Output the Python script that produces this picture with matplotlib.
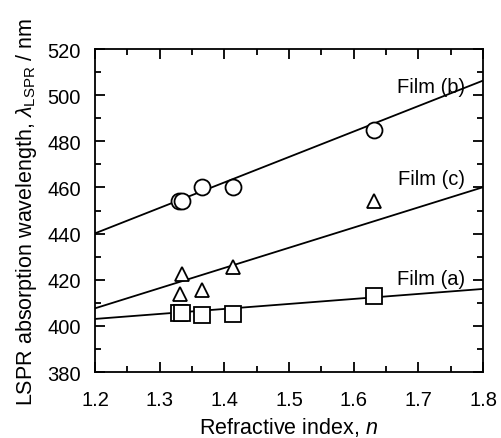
import matplotlib

matplotlib.use("Agg")
import matplotlib.pyplot as plt
from matplotlib.ticker import MultipleLocator

plt.rcParams["font.family"] = ["Liberation Sans", "DejaVu Sans"]
plt.rcParams["mathtext.fontset"] = "custom"
plt.rcParams["mathtext.rm"] = "Liberation Sans"
plt.rcParams["mathtext.it"] = "Liberation Sans:italic"

# refractive index of the solvents and LSPR peak positions per film
n_a = [1.330, 1.334, 1.365, 1.414, 1.631]
lspr_a = [405.6, 405.4, 404.7, 405.1, 412.8]
n_b = [1.330, 1.334, 1.365, 1.414, 1.631]
lspr_b = [454.0, 454.2, 460.3, 460.3, 485.0]
n_c = [1.331, 1.335, 1.365, 1.413, 1.632]
lspr_c = [413.8, 422.5, 415.5, 425.4, 454.2]

# linear fits (end points of the drawn lines)
fit_x = [1.2, 1.8]
fit_a = [403.0, 416.0]
fit_b = [440.1, 506.3]
fit_c = [407.6, 460.1]

labels = ["Film (a)", "Film (b)", "Film (c)"]
label_pos = [(1.772, 418.1), (1.772, 501.2), (1.772, 461.5)]

fig = plt.figure(figsize=(5.01, 4.39), dpi=100)
ax = fig.add_axes([95 / 501, 66 / 439, 388 / 501, 323 / 439])

for x, y in [(fit_x, fit_a), (fit_x, fit_b), (fit_x, fit_c)]:
    ax.plot(x, y, color="black", lw=1.3, zorder=1)

ax.plot(n_a, lspr_a, ls="none", marker="s", ms=11, mfc="white", mec="black", mew=1.3, zorder=3)
ax.plot(n_b, lspr_b, ls="none", marker="o", ms=11.5, mfc="white", mec="black", mew=1.3, zorder=3)
ax.plot(n_c, lspr_c, ls="none", marker="^", ms=10.5, mfc="white", mec="black", mew=1.3, zorder=3)

for text, (x, y) in zip(labels, label_pos):
    ax.text(x, y, text, ha="right", va="baseline", fontsize=14.5)

ax.set_xlim(1.2, 1.8)
ax.set_ylim(380, 520)
ax.xaxis.set_major_locator(MultipleLocator(0.1))
ax.xaxis.set_minor_locator(MultipleLocator(0.05))
ax.yaxis.set_major_locator(MultipleLocator(20))
ax.yaxis.set_minor_locator(MultipleLocator(10))
ax.tick_params(which="both", direction="in", top=True, right=True, width=1.3, labelsize=14.5)
ax.tick_params(which="major", length=7)
ax.tick_params(which="minor", length=4)
ax.tick_params(axis="x", pad=13)
ax.tick_params(axis="y", pad=10)
for s in ax.spines.values():
    s.set_linewidth(1.3)

ax.set_xlabel("Refractive index, $n$", fontsize=15.5, labelpad=4.5)
ax.set_ylabel(r"LSPR absorption wavelength, $\lambda_{\mathrm{LSPR}}$ / nm", fontsize=15.5, labelpad=6)

fig.savefig("out.png", dpi=100)
